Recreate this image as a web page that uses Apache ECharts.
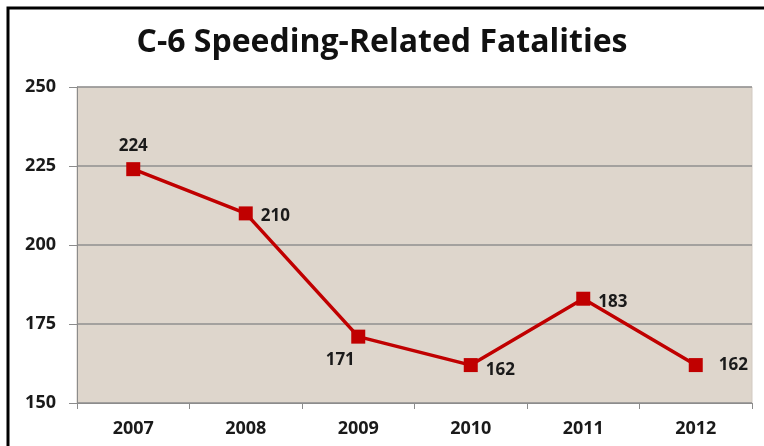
<!DOCTYPE html>
<html>
<head>
<meta charset="utf-8">
<script src="https://cdn.jsdelivr.net/npm/echarts@6/dist/echarts.min.js"></script>
<style>
  html, body { margin: 0; padding: 0; background: #fff; }
  #chart { width: 764px; height: 446px; }
</style>
</head>
<body>
<div id="chart"></div>
<script>
// data
const years = ["2007", "2008", "2009", "2010", "2011", "2012"];
const fatalities = [224, 210, 171, 162, 183, 162];
const yTicks = [150, 175, 200, 225, 250];

// where each value label sits relative to its point
const labelPos = ["top", "right", "bottom", "right", "right", "right"];
const labelOffset = [[0, 0], [0, 3], [-18, 0], [0, 5], [0, 3], [8, 0]];

const chart = echarts.init(document.getElementById("chart"));

const textColor = "#1a1a1a";

const option = {
  backgroundColor: "#ffffff",
  animation: false,
  title: {
    text: "C-6 Speeding-Related Fatalities",
    left: "center",
    top: 22,
    textStyle: {
      fontFamily: "Open Sans",
      fontWeight: "bold",
      fontSize: 32,
      color: "#111",
    },
  },
  graphic: [
    {
      type: "polyline",
      shape: { points: [[8, 460], [8, 8], [780, 8]] },
      style: { stroke: "#000", lineWidth: 3, fill: null },
      z: 10,
    },
  ],
  grid: {
    left: 77,
    right: 12,
    top: 87,
    bottom: 43,
    show: true,
    backgroundColor: "#ded6cc",
    borderColor: "#d2cac2",
    borderWidth: 1,
  },
  xAxis: {
    type: "category",
    data: years,
    boundaryGap: true,
    axisLine: { lineStyle: { color: "#8c8c8c", width: 1 } },
    axisTick: { show: true, length: 6, lineStyle: { color: "#8c8c8c" } },
    axisLabel: {
      color: textColor,
      fontFamily: "Open Sans",
      fontWeight: "bold",
      fontSize: 18,
      margin: 17,
    },
  },
  yAxis: {
    type: "value",
    min: yTicks[0],
    max: yTicks[yTicks.length - 1],
    interval: 25,
    axisLine: { show: true, lineStyle: { color: "#8c8c8c", width: 1 } },
    axisTick: { show: true, length: 8, lineStyle: { color: "#8c8c8c" } },
    axisLabel: {
      color: textColor,
      fontFamily: "Open Sans",
      fontWeight: "bold",
      fontSize: 18,
      margin: 21,
    },
    splitLine: { show: true, lineStyle: { color: "#8f8f8f", width: 1.5 } },
  },
  series: [
    {
      type: "line",
      data: fatalities.map((v, i) => ({
        value: v,
        label: { position: labelPos[i], offset: labelOffset[i] },
      })),
      symbol: "rect",
      symbolSize: 14,
      lineStyle: { color: "#c00000", width: 3.5 },
      itemStyle: { color: "#c00000" },
      label: {
        show: true,
        color: textColor,
        fontFamily: "Open Sans",
        fontWeight: "bold",
        fontSize: 17,
        distance: 8,
      },
    },
  ],
};

chart.setOption(option);
</script>
</body>
</html>
